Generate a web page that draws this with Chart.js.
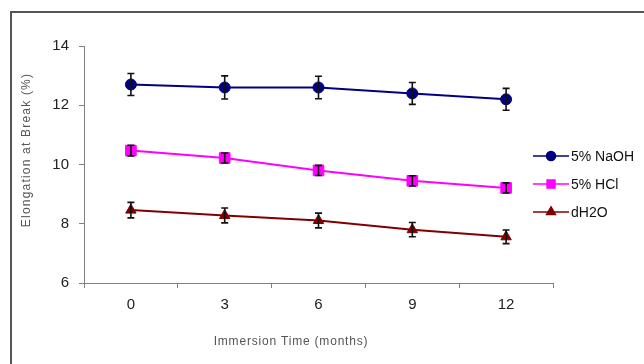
<!DOCTYPE html>
<html>
<head>
<meta charset="utf-8">
<script src="https://cdn.jsdelivr.net/npm/chart.js@4/dist/chart.umd.min.js"></script>
<style>
  html, body { margin: 0; padding: 0; background: #fff; }
  #wrap { position: relative; width: 644px; height: 364px; overflow: hidden; }
  #frame { position: absolute; left: 10px; top: 11px; width: 700px; height: 400px; border: 2px solid #555; box-sizing: border-box; }
  canvas { position: absolute; left: 0; top: 0; }
</style>
</head>
<body>
<div id="wrap">
  <div id="frame"></div>
  <canvas id="c" width="644" height="364"></canvas>
</div>
<script>
const months = ['0', '3', '6', '9', '12'];
const seriesNames = ['5% NaOH', '5% HCl', 'dH2O'];
const naoh = [12.7, 12.6, 12.6, 12.4, 12.2];
const naohErr = [0.37, 0.39, 0.38, 0.37, 0.37];
const hcl = [10.47, 10.22, 9.8, 9.45, 9.21];
const hclErr = [0.18, 0.17, 0.17, 0.17, 0.17];
const dh2o = [8.46, 8.28, 8.11, 7.8, 7.56];
const dh2oErr = [0.26, 0.25, 0.25, 0.24, 0.23];
const yMin = 6, yMax = 14, yStep = 2;
const xTitle = 'Immersion Time (months)';
const yTitle = 'Elongation at Break (%)';

const errors = [naohErr, hclErr, dh2oErr];
const legendRadius = [4.5, 5.5, 5];

const errorBars = {
  id: 'errorBars',
  afterDatasetsDraw(chart) {
    const ctx = chart.ctx;
    const y = chart.scales.y;
    ctx.save();
    ctx.strokeStyle = '#111';
    ctx.lineWidth = 1.6;
    chart.data.datasets.forEach((ds, i) => {
      const meta = chart.getDatasetMeta(i);
      meta.data.forEach((pt, j) => {
        const v = ds.data[j], e = errors[i][j];
        const yt = y.getPixelForValue(v + e);
        const yb = y.getPixelForValue(v - e);
        const x = pt.x;
        ctx.beginPath();
        ctx.moveTo(x, yt); ctx.lineTo(x, yb);
        ctx.moveTo(x - 3.5, yt); ctx.lineTo(x + 3.5, yt);
        ctx.moveTo(x - 3.5, yb); ctx.lineTo(x + 3.5, yb);
        ctx.stroke();
      });
    });
    ctx.restore();
  }
};

const extras = {
  id: 'extras',
  afterDraw(chart) {
    const ctx = chart.ctx;
    ctx.save();
    // legend
    const ly = [156, 184, 212];
    chart.data.datasets.forEach((ds, i) => {
      const yy = ly[i];
      ctx.strokeStyle = ds.borderColor;
      ctx.lineWidth = 1.6;
      ctx.beginPath();
      ctx.moveTo(533, yy); ctx.lineTo(569, yy);
      ctx.stroke();
      ctx.fillStyle = ds.pointBackgroundColor;
      ctx.strokeStyle = ds.pointBorderColor;
      Chart.helpers.drawPoint(ctx, {
        pointStyle: ds.pointStyle, radius: legendRadius[i], rotation: 0, borderWidth: 1
      }, 551, yy);
      ctx.fillStyle = '#111';
      ctx.font = '14px "Liberation Sans", Arial, sans-serif';
      ctx.textAlign = 'left';
      ctx.textBaseline = 'middle';
      ctx.fillText(ds.label, 571, yy + 1);
    });
    // axis titles
    ctx.fillStyle = '#555';
    ctx.font = '12px "Liberation Sans", Arial, sans-serif';
    ctx.textAlign = 'center';
    ctx.textBaseline = 'middle';
    ctx.letterSpacing = '0.8px';
    ctx.fillText(xTitle, 291, 342);
    ctx.translate(27, 150);
    ctx.rotate(-Math.PI / 2);
    ctx.letterSpacing = '1.2px';
    ctx.fillText(yTitle, 0, 0);
    ctx.restore();
  }
};

new Chart(document.getElementById('c'), {
  type: 'line',
  data: {
    labels: months,
    datasets: [
      { label: seriesNames[0], data: naoh, borderColor: '#000080', backgroundColor: '#000080',
        pointBackgroundColor: '#000080', pointBorderColor: '#000080', pointStyle: 'circle', pointRadius: 5.5 },
      { label: seriesNames[1], data: hcl, borderColor: '#FF00FF', backgroundColor: '#FF00FF',
        pointBackgroundColor: '#FF00FF', pointBorderColor: '#FF00FF', pointStyle: 'rect', pointRadius: 7.5 },
      { label: seriesNames[2], data: dh2o, borderColor: '#800000', backgroundColor: '#800000',
        pointBackgroundColor: '#800000', pointBorderColor: '#800000', pointStyle: 'triangle', pointRadius: 6 }
    ]
  },
  options: {
    responsive: false,
    animation: false,
    devicePixelRatio: 1,
    layout: { padding: { left: 0, top: 46, right: 91, bottom: 0 } },
    elements: { line: { borderWidth: 2, tension: 0 }, point: { borderWidth: 1 } },
    plugins: { legend: { display: false }, tooltip: { enabled: false } },
    scales: {
      x: {
        offset: true,
        grid: { offset: true, drawOnChartArea: false, drawTicks: true, tickLength: 5, color: '#808080' },
        border: { display: true, color: '#808080', width: 1 },
        ticks: { color: '#222', font: { size: 15, family: '"Liberation Sans", Arial, sans-serif' }, padding: 8 },
        afterFit(s) { s.height = 81; }
      },
      y: {
        min: yMin, max: yMax,
        grid: { drawOnChartArea: false, drawTicks: true, tickLength: 5, color: '#808080' },
        border: { display: true, color: '#808080', width: 1 },
        ticks: { stepSize: yStep, color: '#222', font: { size: 15, family: '"Liberation Sans", Arial, sans-serif' }, padding: 10 },
        afterFit(s) { s.width = 84; }
      }
    }
  },
  plugins: [errorBars, extras]
});
</script>
</body>
</html>
